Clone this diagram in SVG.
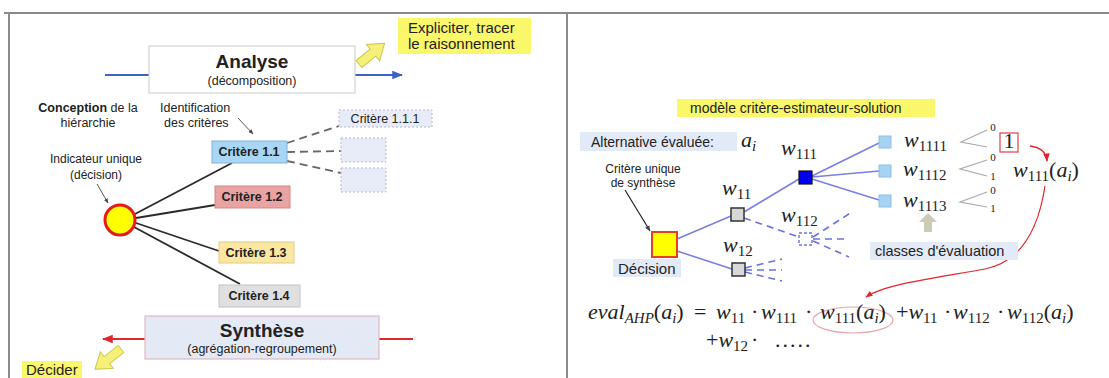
<svg xmlns="http://www.w3.org/2000/svg" width="1109" height="378" viewBox="0 0 1109 378">
<style>
.s{font-family:"Liberation Sans",Arial,sans-serif;fill:#222}
.b{font-weight:bold}
.m{font-family:"Liberation Serif","Times New Roman",serif;fill:#222;font-size:22px}
.it{font-style:italic}
.sb{font-size:15px}
.rl{stroke:#7b7fe3;stroke-width:1.6;fill:none}
.dl{stroke:#6a72df;stroke-width:1.6;fill:none;stroke-dasharray:7,5}
.blk{stroke:#2a2a2a;stroke-width:1.8;fill:none}
.gd{stroke:#666;stroke-width:1.8;fill:none;stroke-dasharray:8,5}
.yarr{fill:#f6f07a;stroke:#cfc64c;stroke-width:1}
.lb{fill:#e3eaf7}
.yl{fill:#fbf76b}
.gv{stroke:#aaa;stroke-width:1.2;fill:none}
.dg{font-family:"Liberation Serif","Times New Roman",serif;fill:#222;font-size:11px}
</style>
<defs>
<marker id="ab" viewBox="0 0 10 10" refX="9" refY="5" markerWidth="6" markerHeight="6" orient="auto"><path d="M0,1 L10,5 L0,9 Z" fill="#3d63c4"/></marker>
<marker id="ar" viewBox="0 0 10 10" refX="9" refY="5" markerWidth="6" markerHeight="6" orient="auto"><path d="M0,1 L10,5 L0,9 Z" fill="#e2262f"/></marker>
<marker id="ak" viewBox="0 0 10 10" refX="9" refY="5" markerWidth="5" markerHeight="5" orient="auto"><path d="M0,1 L10,5 L0,9 Z" fill="#444"/></marker>
<path id="fat" d="M0,-4.5 L18,-4.5 L18,-10.5 L33,0 L18,10.5 L18,4.5 L0,4.5 Z"/>
</defs>

<g id="frame"><path d="M4,13 H1109 M9,13 V378 M567,13 V378" stroke="#8a8a8a" stroke-width="2" fill="none"/></g>

<g id="connectors">
<path d="M105,75 H149" stroke="#3d63c4" stroke-width="1.8" fill="none"/>
<path d="M355,75 H402" stroke="#3d63c4" stroke-width="1.8" fill="none" marker-end="url(#ab)"/>
<path d="M145,339 H103" stroke="#e2262f" stroke-width="1.8" fill="none" marker-end="url(#ar)"/>
<path d="M379,339 H413" stroke="#e2262f" stroke-width="1.8" fill="none"/>
<path class="blk" d="M135,214 L232,163 M136,218 L215,205 M136,223 L219,251 M134,227 L240,284"/>
<path class="gd" d="M287,143 L339,126 M287,152 L341,151 M287,161 L341,173"/>
<path d="M238,118 L253,134" stroke="#555" stroke-width="1" fill="none" marker-end="url(#ak)"/>
<path d="M97,184 L108,203" stroke="#555" stroke-width="1" fill="none" marker-end="url(#ak)"/>
<use href="#fat" class="yarr" transform="translate(359,64) rotate(-39)"/>
<use href="#fat" class="yarr" transform="translate(121,349) rotate(142)"/>

<path class="rl" d="M677,239 L731,216 M677,251 L732,269 M744,212 L799,179 M812,176 L879,143 M812,177 L879,171 M812,179 L879,200"/>
<path class="dl" d="M744,218 L799,237 M813,237 L852,212 M813,239 L849,239 M813,241 L849,257 M745,268 L782,259 M745,270 L782,270 M745,272 L782,281"/>
<path d="M625,190 L650,231" stroke="#222" stroke-width="1.2" fill="none" marker-end="url(#ak)"/>
<path class="gv" d="M987,130 L961,142 L987,147 M987,160 L960,169 L987,176 M987,192 L960,202 L987,207"/>
<path d="M1030,146 Q1046,148 1047,161" stroke="#e2262f" stroke-width="1.4" fill="none" marker-end="url(#ar)"/>
<path d="M1045,186 C1038,232 1020,262 985,269 C935,278 885,284 866,297" stroke="#e2262f" stroke-width="1.2" fill="none" marker-end="url(#ar)"/>
<path d="M928,213 L937,222 L932,222 L932,232 L924,232 L924,222 L919,222 Z" fill="#c9cbb5"/>
</g>

<g id="analyse"><rect x="149" y="46" width="206" height="47" fill="#fff" stroke="#d3d3d3" stroke-width="1.2"/>
<text class="s b" x="252" y="68" font-size="19" text-anchor="middle">Analyse</text>
<text class="s" x="252" y="85" font-size="12.5" text-anchor="middle" fill="#333">(décomposition)</text></g>

<g id="expliciter"><rect class="yl" x="398" y="18" width="133" height="36"/>
<text class="s" x="408" y="33" font-size="15">Expliciter, tracer</text>
<text class="s" x="408" y="49" font-size="15">le raisonnement</text></g>

<g id="conception"><text class="s" x="88" y="112" font-size="12.5" text-anchor="middle"><tspan class="b">Conception</tspan> de la</text>
<text class="s" x="88" y="127" font-size="12.5" text-anchor="middle">hiérarchie</text></g>

<g id="identification"><text class="s" x="160" y="112" font-size="12.5">Identification</text>
<text class="s" x="164" y="127" font-size="12.5">des critères</text></g>

<g id="indicateur"><text class="s" x="96" y="163" font-size="12" text-anchor="middle" fill="#333">Indicateur unique</text>
<text class="s" x="96" y="179" font-size="12" text-anchor="middle" fill="#333">(décision)</text>
<circle cx="120" cy="220" r="15" fill="#ffff00" stroke="#e31b1b" stroke-width="3"/></g>

<g id="c11"><rect x="212" y="141" width="75" height="22" fill="#a8d6f3" stroke="#7eb2da"/>
<text class="s b" x="249" y="156" font-size="12.5" text-anchor="middle">Critère 1.1</text></g>
<g id="c111"><rect x="339" y="110" width="93" height="17" fill="#e8ecf8" stroke="#b5b9c9" stroke-dasharray="2,2"/>
<text class="s" x="385" y="123" font-size="12.5" text-anchor="middle">Critère 1.1.1</text></g>
<g id="c112"><rect x="341" y="138" width="45" height="24" fill="#e8ecf8" stroke="#b5b9c9" stroke-dasharray="2,2"/></g>
<g id="c113"><rect x="341" y="168" width="45" height="24" fill="#e8ecf8" stroke="#b5b9c9" stroke-dasharray="2,2"/></g>
<g id="c12"><rect x="215" y="186" width="75" height="22" fill="#e9a3a3" stroke="#d08a8a"/>
<text class="s b" x="252" y="201" font-size="12.5" text-anchor="middle" fill="#3a1a1a">Critère 1.2</text></g>
<g id="c13"><rect x="219" y="242" width="75" height="21" fill="#fbe7a2" stroke="#e0cc88"/>
<text class="s b" x="256" y="257" font-size="12.5" text-anchor="middle">Critère 1.3</text></g>
<g id="c14"><rect x="219" y="285" width="81" height="22" fill="#e0e0e0" stroke="#c4c4c4"/>
<text class="s b" x="259" y="300" font-size="12.5" text-anchor="middle">Critère 1.4</text></g>

<g id="synthese"><rect x="145" y="316" width="234" height="43" fill="#e3e9f5" stroke="#e2b8c0" stroke-width="1.2"/>
<text class="s b" x="262" y="337" font-size="19" text-anchor="middle">Synthèse</text>
<text class="s" x="262" y="353" font-size="12.5" text-anchor="middle" fill="#333">(agrégation-regroupement)</text></g>

<g id="decider"><rect class="yl" x="22" y="361" width="60" height="17"/>
<text class="s" x="26" y="375" font-size="15">Décider</text></g>

<g id="titre"><rect class="yl" x="677" y="99" width="258" height="18"/>
<text class="s" x="690" y="113" font-size="14">modèle critère-estimateur-solution</text></g>

<g id="alternative"><rect class="lb" x="580" y="132" width="157" height="19"/>
<text class="s" x="591" y="147" font-size="14">Alternative évaluée:</text>
<text class="m it" x="741" y="147">a<tspan class="sb" dy="4">i</tspan></text></g>

<g id="critere-unique"><text class="s" x="643" y="173" font-size="12" text-anchor="middle" fill="#333">Critère unique</text>
<text class="s" x="643" y="187" font-size="12" text-anchor="middle" fill="#333">de synthèse</text></g>

<g id="decision"><rect x="652" y="232" width="25" height="25" fill="#ffff00" stroke="#e8401a" stroke-width="2"/>
<rect class="lb" x="613" y="259" width="68" height="18"/>
<text class="s" x="618" y="274" font-size="15">Décision</text></g>

<g id="w11"><rect x="731" y="208" width="13" height="13" fill="#d8d8d8" stroke="#333" stroke-width="1.5"/>
<text class="m" x="722" y="195"><tspan class="it">w</tspan><tspan class="sb" dy="4">11</tspan></text></g>
<g id="w12"><rect x="732" y="263" width="13" height="13" fill="#d8d8d8" stroke="#333" stroke-width="1.5"/>
<text class="m" x="723" y="252"><tspan class="it">w</tspan><tspan class="sb" dy="4">12</tspan></text></g>
<g id="w111"><rect x="799" y="171" width="13" height="13" fill="#0000ee" stroke="#111" stroke-width="1.2"/>
<text class="m" x="781" y="155"><tspan class="it">w</tspan><tspan class="sb" dy="4">111</tspan></text></g>
<g id="w112"><rect x="799" y="233" width="13" height="12" fill="none" stroke="#6a72df" stroke-width="1.4" stroke-dasharray="3,2"/>
<text class="m" x="781" y="222"><tspan class="it">w</tspan><tspan class="sb" dy="4">112</tspan></text></g>

<g id="w1111"><rect x="879" y="136" width="12" height="12" fill="#a6d3f4" stroke="#8fbfe6"/>
<text class="m" x="904" y="147"><tspan class="it">w</tspan><tspan class="sb" dy="4">1111</tspan></text>
<text class="dg" x="993" y="131" text-anchor="middle">0</text>
<rect x="1000" y="133" width="18" height="19" fill="#fff" stroke="#e05050" stroke-width="1.3"/>
<text class="m" x="1009" y="148" font-size="16" text-anchor="middle">1</text></g>
<g id="w1112"><rect x="879" y="165" width="12" height="12" fill="#a6d3f4" stroke="#8fbfe6"/>
<text class="m" x="903" y="176"><tspan class="it">w</tspan><tspan class="sb" dy="4">1112</tspan></text>
<text class="dg" x="993" y="161" text-anchor="middle">0</text>
<text class="dg" x="993" y="180" text-anchor="middle">1</text></g>
<g id="w1113"><rect x="879" y="195" width="12" height="12" fill="#a6d3f4" stroke="#8fbfe6"/>
<text class="m" x="903" y="207"><tspan class="it">w</tspan><tspan class="sb" dy="4">1113</tspan></text>
<text class="dg" x="993" y="194" text-anchor="middle">0</text>
<text class="dg" x="993" y="212" text-anchor="middle">1</text></g>

<g id="w111ai"><text class="m" x="1013" y="177" font-size="23"><tspan class="it">w</tspan><tspan class="sb" dy="4">111</tspan><tspan dy="-4">(</tspan><tspan class="it">a</tspan><tspan class="it sb" dy="4">i</tspan><tspan dy="-4">)</tspan></text></g>

<g id="classes"><rect class="lb" x="870" y="242" width="148" height="18"/>
<text class="s" x="875" y="256" font-size="14.5">classes d'évaluation</text></g>

<g id="equation">
<ellipse cx="853" cy="320" rx="40" ry="13" fill="none" stroke="#e8a6ae" stroke-width="1.2"/>
<text class="m" x="588" y="319"><tspan class="it">eval</tspan><tspan class="it sb" dy="4">AHP</tspan><tspan dy="-4">(</tspan><tspan class="it">a</tspan><tspan class="it sb" dy="4">i</tspan><tspan dy="-4">)</tspan></text>
<text class="m" x="694" y="319">=</text>
<text class="m" x="716" y="319"><tspan class="it">w</tspan><tspan class="sb" dy="4">11</tspan></text>
<text class="m" x="751" y="319">·</text>
<text class="m" x="761" y="319"><tspan class="it">w</tspan><tspan class="sb" dy="4">111</tspan></text>
<text class="m" x="805" y="319">·</text>
<text class="m" x="820" y="319"><tspan class="it">w</tspan><tspan class="sb" dy="4">111</tspan><tspan dy="-4">(</tspan><tspan class="it">a</tspan><tspan class="it sb" dy="4">i</tspan><tspan dy="-4">)</tspan></text>
<text class="m" x="896" y="319">+<tspan class="it">w</tspan><tspan class="sb" dy="4">11</tspan></text>
<text class="m" x="944" y="319">·</text>
<text class="m" x="953" y="319"><tspan class="it">w</tspan><tspan class="sb" dy="4">112</tspan></text>
<text class="m" x="997" y="319">·</text>
<text class="m" x="1007" y="319"><tspan class="it">w</tspan><tspan class="sb" dy="4">112</tspan><tspan dy="-4">(</tspan><tspan class="it">a</tspan><tspan class="it sb" dy="4">i</tspan><tspan dy="-4">)</tspan></text>
<text class="m" x="706" y="347">+<tspan class="it">w</tspan><tspan class="sb" dy="4">12</tspan></text>
<text class="m" x="751" y="347">·</text>
<text class="m" x="775" y="347" font-size="9" letter-spacing="2">.....</text>
</g>
</svg>
